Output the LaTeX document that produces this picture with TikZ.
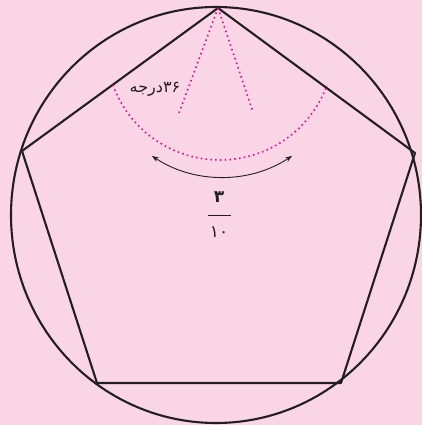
\documentclass[tikz,border=0pt]{standalone}
\usepackage{fontspec}
\newfontfamily\arabicfont[Script=Arabic]{DejaVu Sans}
\TeXXeTstate=1
\usetikzlibrary{arrows.meta}
\definecolor{bgpink}{HTML}{F9D5E6}
\definecolor{ink}{HTML}{231F20}
\definecolor{dotpink}{HTML}{EC008C}
\tikzset{
  edge/.style={draw=ink, line width=2.1pt, line join=round},
  guide/.style={draw=dotpink, line width=1.6pt, dash pattern=on 1.5pt off 3.3pt},
  anglearrow/.style={draw=ink, line width=0.9pt, {Stealth[length=7pt,width=5pt]}-{Stealth[length=7pt,width=5pt]}},
  label/.style={text=ink, inner sep=0pt}
}
\begin{document}
\begin{tikzpicture}[x=1pt,y=-1pt]
\fill[bgpink] (0,0) rectangle (422,425);
\useasboundingbox (0,0) rectangle (422,425);
% circle
\draw[edge] (216,215) ellipse [x radius=205, y radius=208];
% pentagon vertices
\coordinate (T) at (218,8);
\coordinate (L) at (22,151);
\coordinate (R) at (415,153);
\coordinate (BL) at (97,383);
\coordinate (BR) at (341,383);
\draw[edge] (T) -- (R) -- (BR) -- (BL) -- (L) -- cycle;
% dotted guides
\coordinate (G1) at (179,113);
\coordinate (G2) at (253,112);
\draw[guide] (T) -- (G1);
\draw[guide] (T) -- (G2);
\draw[guide] (220,46) ++(160:114) arc[start angle=160, end angle=20, radius=114];
% arrow arc
\draw[anglearrow] (222,50) ++(123.5:127) arc[start angle=123.5, end angle=56.5, radius=127];
% labels
\node[label] (deg) at (155,89) {\arabicfont\fontsize{16}{18}\selectfont\beginR{\beginL ۳۶\endL}درجه\endR};
\node[label] (num) at (219,197) {\arabicfont\bfseries\fontsize{17}{19}\selectfont ۳};
\node[label] (den) at (219,232) {\arabicfont\fontsize{17}{19}\selectfont ۱۰};
\draw[draw=ink, line width=1pt] (208,215) -- (231,215);
\end{tikzpicture}
\end{document}
